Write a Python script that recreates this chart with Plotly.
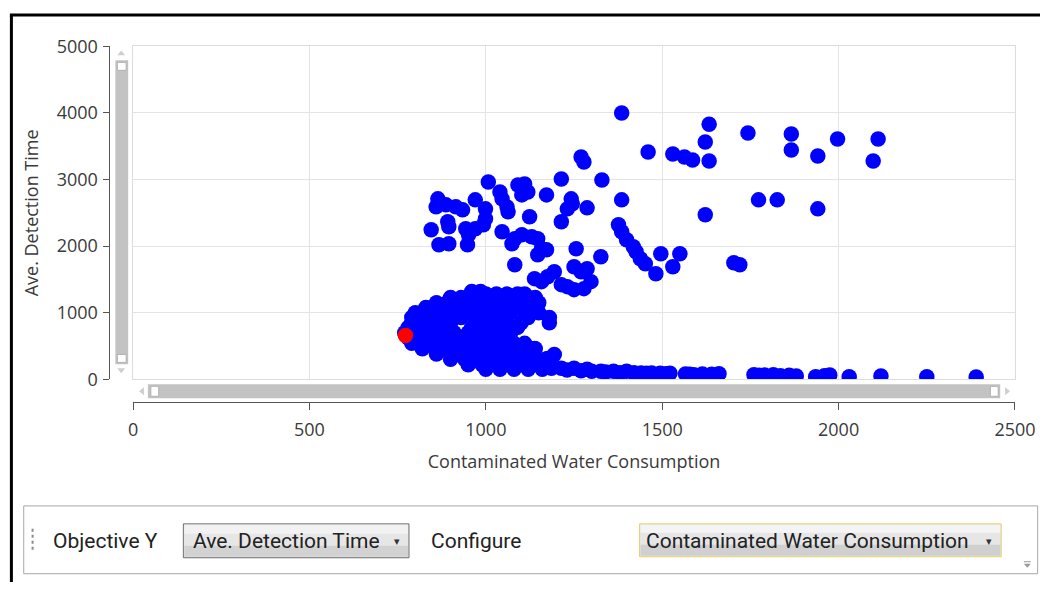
import plotly.graph_objects as go

W, H = 1061, 593

# ---------------- data ----------------
upper_x = [1385, 1460, 1530, 1563, 1586, 1270, 1278, 1329, 1214, 1385, 1007, 1091, 1110, 1119, 1102,
           1040, 1046, 1060, 1063, 1172, 1242, 1245, 1231, 1287, 864, 859, 887, 915, 934, 970, 999,
           892, 895, 845, 867, 895, 943, 951, 948, 970, 999, 993, 1046, 1074, 1082, 1102, 1130, 1147,
           1158, 1147, 1172, 1124, 1214, 1256, 1326, 1082, 1138, 1158, 1175, 1194, 1214, 1231, 1250,
           1270, 1287, 1298, 1278, 1250, 1376, 1385, 1399, 1418, 1426, 1438, 1452, 1482, 1496, 1550,
           1530, 1633, 1622, 1633, 1743, 1866, 1866, 1941, 1997, 2112, 2098, 1622, 1773, 1826, 1941,
           1703, 1720]
upper_y = [4000, 3413, 3383, 3338, 3293, 3338, 3263, 2994, 3009, 2695, 2964, 2919, 2934, 2814, 2770,
           2814, 2710, 2590, 2515, 2770, 2710, 2635, 2560, 2575, 2710, 2590, 2620, 2590, 2545, 2695, 2560,
           2365, 2290, 2246, 2021, 2036, 2261, 2171, 2021, 2261, 2410, 2320, 2216, 2036, 2111, 2171, 2141, 2111,
           1961, 1871, 1946, 2440, 2365, 1961, 1841, 1721, 1512, 1467, 1542, 1617, 1422, 1392, 1692,
           1617, 1662, 1467, 1362, 1347, 2320, 2216, 2096, 1991, 1916, 1811, 1736, 1587, 1886, 1886,
           1692, 3832, 3563, 3278, 3698, 3683, 3443, 3353, 3608, 3608, 3278, 2470, 2695, 2695, 2560,
           1751, 1721]

tail_x = [1138, 1175, 1194, 1186, 1214, 1230, 1250, 1270, 1287, 1300, 1326, 1340, 1362, 1380, 1399,
          1420, 1440, 1455, 1470, 1494, 1510, 1522, 1578, 1566, 1590, 1614, 1640, 1661, 1760, 1775,
          1790, 1815, 1835, 1860, 1880, 1935, 1960, 1975, 2030, 2120, 2250, 2390]
tail_y = [464, 314, 374, 165, 165, 140, 165, 130, 150, 120, 120, 110, 120, 100, 120,
          100, 95, 90, 95, 90, 85, 90, 75, 80, 70, 80, 75, 85, 70, 60,
          65, 70, 55, 60, 50, 40, 55, 65, 40, 50, 40, 35]

blob_rows_y = [1320, 1280, 1230, 1150, 1080, 1000, 930, 850, 780, 700, 620, 540, 460, 380, 300, 220, 150]
blob_rows_x = [
    [960, 985],
    [1000, 1030, 1060, 1090, 1110],
    [900, 930, 960, 1000, 1040, 1080, 1120, 1140],
    [860, 890, 920, 950, 980, 1010, 1050, 1090, 1130, 1150],
    [830, 860, 900, 940, 970, 1000, 1030, 1060, 1100, 1140],
    [800, 830, 870, 910, 950, 990, 1020, 1070, 1110, 1150],
    [790, 820, 850, 890, 930, 970, 1000, 1040, 1120, 1180],
    [790, 820, 860, 900, 980, 1020, 1060, 1100, 1180],
    [780, 810, 850, 880, 960, 1000, 1050, 1090],
    [770, 800, 840, 880, 910, 950, 990, 1030, 1070],
    [780, 820, 860, 900, 940, 980, 1020, 1060],
    [790, 830, 870, 910, 950, 1000, 1040, 1080, 1110],
    [820, 860, 900, 940, 980, 1020, 1060, 1100, 1140],
    [860, 900, 940, 980, 1020, 1060, 1100, 1130],
    [900, 940, 980, 1020, 1060, 1100, 1140, 1170],
    [950, 990, 1030, 1070, 1110, 1150, 1190],
    [1000, 1040, 1080, 1120, 1160],
]

selected_x = [772]
selected_y = [659]

x_ticks = [0, 500, 1000, 1500, 2000, 2500]
y_ticks = [0, 1000, 2000, 3000, 4000, 5000]

x_title = "Contaminated Water Consumption"
y_title = "Ave. Detection Time"

# ---------------- helpers: target picture pixel -> paper ----------------
SX, OX = 0.99, 3.0
SY, OY = 0.9626, 10.5

def px(v):
    return min(1.0, max(0.0, ((v - OX) / SX) / W))

def py(v):
    return min(1.0, max(0.0, 1 - ((v - OY) / SY) / H))

blob_x, blob_y = [], []
for yy, xs in zip(blob_rows_y, blob_rows_x):
    for xx in xs:
        blob_x.append(xx)
        blob_y.append(yy)

all_x = upper_x + tail_x + blob_x
all_y = upper_y + tail_y + blob_y

fig = go.Figure()
fig.add_trace(go.Scatter(x=all_x, y=all_y, mode="markers",
                         marker=dict(color="#0000ff", size=15.5, line=dict(width=0)),
                         hoverinfo="x+y", showlegend=False))
fig.add_trace(go.Scatter(x=selected_x, y=selected_y, mode="markers",
                         marker=dict(color="#ff0000", size=15.5, line=dict(width=0)),
                         showlegend=False))
fig.add_trace(go.Scatter(x=[None], y=[None], xaxis="x2", yaxis="y2", showlegend=False,
                         mode="markers", hoverinfo="skip"))

x_dom = [px(133), px(1028)]
y_dom = [py(378), py(44)]
tickfont = dict(family="Open Sans, DejaVu Sans, sans-serif", size=18, color="#3a3a3a")
titlefont = dict(family="Open Sans, DejaVu Sans, sans-serif", size=18, color="#3a3a3a")

fig.update_layout(
    width=W, height=H, autosize=False,
    margin=dict(l=0, r=0, t=0, b=0),
    paper_bgcolor="white", plot_bgcolor="white",
    xaxis=dict(domain=x_dom, range=[0, 2500], tickvals=x_ticks, showticklabels=False,
               showgrid=True, gridcolor="#e4e4e4", gridwidth=1, zeroline=False,
               showline=True, linecolor="#dcdcdc", mirror=True, ticks="", anchor="y"),
    yaxis=dict(domain=y_dom, range=[0, 5000], tickvals=y_ticks, showticklabels=False,
               showgrid=True, gridcolor="#e4e4e4", gridwidth=1, zeroline=False,
               showline=True, linecolor="#dcdcdc", mirror=True, ticks="", anchor="x"),
    xaxis2=dict(domain=x_dom, range=[0, 2500], tickvals=x_ticks, overlaying="x",
                anchor="free", position=py(401), showgrid=False, zeroline=False,
                showline=True, linecolor="#555555", linewidth=1, ticks="outside",
                ticklen=7, tickcolor="#555555", tickfont=tickfont, ticklabelstandoff=4,
                title=dict(text=x_title, standoff=15, font=titlefont)),
    yaxis2=dict(domain=y_dom, range=[0, 5000], tickvals=y_ticks, overlaying="y",
                anchor="free", position=px(109), side="left", showgrid=False, zeroline=False,
                showline=True, linecolor="#555555", linewidth=1, ticks="outside",
                ticklen=6, tickcolor="#555555", tickfont=tickfont, ticklabelstandoff=2,
                title=dict(text=y_title, standoff=12, font=titlefont)),
)

shapes = []

def rect(x0, y0, x1, y1, fill, line="rgba(0,0,0,0)", lw=0):
    shapes.append(dict(type="rect", xref="paper", yref="paper",
                       x0=px(x0), x1=px(x1), y0=py(y1), y1=py(y0),
                       fillcolor=fill, line=dict(color=line, width=lw), layer="above"))

def tri(points, fill):
    path = "M " + " L ".join(f"{px(a)},{py(b)}" for a, b in points) + " Z"
    shapes.append(dict(type="path", xref="paper", yref="paper", path=path,
                       fillcolor=fill, line=dict(width=0), layer="above"))

def line(x0, y0, x1, y1, color, w, dash="solid"):
    shapes.append(dict(type="line", xref="paper", yref="paper",
                       x0=px(x0), x1=px(x1), y0=py(y0), y1=py(y1),
                       line=dict(color=color, width=w, dash=dash), layer="above"))

# black frame (top & left), kept within the page
line(8, 12.5, 1061, 12.5, "black", 3)
line(9.5, 12, 9.5, 593, "black", 3)

# vertical scrollbar
rect(115, 58, 128, 363, "#c3c3c3")
rect(117, 60, 126, 68, "white", "#b0b0b0", 1)
rect(117, 353, 126, 361, "white", "#b0b0b0", 1)
tri([(117, 53), (125, 53), (121, 48)], "#cfcfcf")
tri([(117, 367), (125, 367), (121, 372)], "#cfcfcf")

# horizontal scrollbar
rect(148, 383, 1013, 397, "#c3c3c3")
rect(151, 385, 159, 395, "white", "#b0b0b0", 1)
rect(1003, 385, 1011, 395, "white", "#b0b0b0", 1)
tri([(144, 386), (144, 394), (139, 390)], "#cfcfcf")
tri([(1018, 386), (1018, 394), (1023, 390)], "#cfcfcf")

# toolbar
rect(22, 505, 1051, 573, "white", "#a8a8a8", 1)
line(31, 528, 31, 551, "#8a8a8a", 2, "dot")
# dropdown 1
rect(184, 523, 413, 557, "#e6e6e6", "#6e6e6e", 1)
rect(185, 524, 412, 533, "#f2f2f2")
rect(185, 545, 412, 556, "#d2d2d2")
# dropdown 2
rect(647, 523, 1014, 556, "#e6e6e6", "#e8cf6a", 1)
rect(648, 524, 1013, 532, "#f4f4f4")
rect(648, 544, 1013, 555, "#d0d0d0")
# corner grip
line(1037, 561, 1044, 561, "#9a9a9a", 1)
tri([(1037, 563), (1044, 563), (1040.5, 567)], "#9a9a9a")

fig.update_layout(shapes=shapes)

tb_font = dict(family="Liberation Sans Narrow, Arial Narrow, Roboto, sans-serif", size=21, color="#222222")
anns = [
    dict(text="Objective Y", x=px(50), y=py(540), xanchor="left", yanchor="middle", font=tb_font),
    dict(text="Ave. Detection Time", x=px(192), y=py(540), xanchor="left", yanchor="middle", font=tb_font),
    dict(text="▾", x=px(401), y=py(540), xanchor="center", yanchor="middle",
         font=dict(size=11, color="#333333")),
    dict(text="Configure", x=px(433), y=py(540), xanchor="left", yanchor="middle", font=tb_font),
    dict(text="Contaminated Water Consumption", x=px(652), y=py(540), xanchor="left", yanchor="middle",
         font=dict(tb_font, size=21)),
    dict(text="▾", x=px(1002), y=py(540), xanchor="center", yanchor="middle",
         font=dict(size=11, color="#333333")),
]
for a in anns:
    a.update(xref="paper", yref="paper", showarrow=False)
fig.update_layout(annotations=anns)

fig.write_html("out.html", post_script="document.body.style.margin='0';",
               config={"displayModeBar": False})
